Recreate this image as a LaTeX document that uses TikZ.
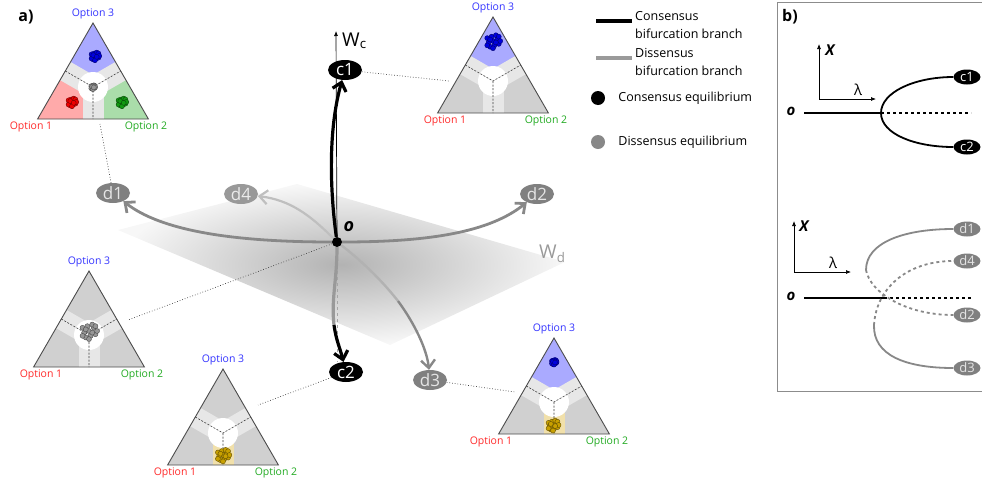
\documentclass[tikz,border=0pt]{standalone}
\usepackage{fontspec}
\setmainfont{Open Sans}
\usetikzlibrary{arrows.meta, positioning, backgrounds, calc, shapes.geometric}
\definecolor{opone}{RGB}{255,42,42}
\definecolor{optwo}{RGB}{34,170,34}
\definecolor{opthree}{RGB}{51,51,255}
\definecolor{regblue}{RGB}{170,170,255}
\definecolor{regred}{RGB}{255,170,170}
\definecolor{reggreen}{RGB}{170,221,170}
\definecolor{reggray}{RGB}{208,208,208}
\definecolor{bandgray}{RGB}{231,231,231}
\definecolor{bandtan}{RGB}{241,224,170}
\definecolor{dotblue}{RGB}{0,0,221}
\definecolor{dotred}{RGB}{238,0,0}
\definecolor{dotgreen}{RGB}{17,153,17}
\definecolor{dotgray}{RGB}{150,150,150}
\definecolor{dotgold}{RGB}{200,160,0}
\definecolor{branchgray}{RGB}{136,136,136}
\definecolor{nodegray}{RGB}{128,128,128}

% simplex: centroid, top / left / right region, lower band, x of Option 1
\newcommand{\simplexplot}[6]{%
  \begin{scope}[shift={#1}]
    \fill[#2] (0,-64) -- (27.7,-16) -- (0,0) -- (-27.7,-16) -- cycle;
    \fill[#3] (-55.4,32) -- (-27.7,-16) -- (0,0) -- (0,32) -- cycle;
    \fill[#4] (55.4,32) -- (0,32) -- (0,0) -- (27.7,-16) -- cycle;
    \draw[band] (0,0) -- (-27.7,-16);
    \draw[band] (0,0) -- (27.7,-16);
    \draw[band, draw=#5] (0,0) -- (0,32);
    \fill[white] (0,0) circle (15);
    \draw[sepline] (-27.7,-16) -- (0,0) -- (27.7,-16) (0,0) -- (0,32);
    \draw[simplex] (0,-64) -- (55.4,32) -- (-55.4,32) -- cycle;
    \node[optlabel, text=opthree] at (0,-73) {Option 3};
    \node[optlabel, text=opone] at (#6,40) {Option 1};
    \node[optlabel, text=optwo] at (53,40) {Option 2};
  \end{scope}}

% cluster of opinions
\newcommand{\dotcluster}[3]{%
  \begin{scope}[shift={#1}]
    \foreach \dx/\dy in {0/0, 3/-2, -3/1, 1/3, -1/-3, 4/2, -4/-2, 2/-4, -2/4, 4/-3, -4/3, 0/5, 5/0, -2/-1, 2/1}
      \filldraw[fill=#2, draw=#2!50!black, line width=0.4pt] ({\dx*#3*0.85},{\dy*#3*0.85}) circle (2.5);
  \end{scope}}

\begin{document}
\begin{tikzpicture}[x=1pt, y=-1pt,
    enode/.style={ellipse, fill=black, text=white, inner sep=0pt,
      minimum width=34pt, minimum height=20pt, font=\fontsize{17}{17}\selectfont},
    dnode/.style={enode, fill=nodegray, text=black!10},
    smallnode/.style={minimum width=27pt, minimum height=15pt, font=\fontsize{13}{13}\selectfont},
    cbranch/.style={-{Straight Barb[length=8pt,width=14pt]}, line width=3.2pt},
    dbranch/.style={cbranch, draw=branchgray, line width=2.8pt},
    guide/.style={dotted, line width=0.7pt, black!75},
    axis/.style={line width=0.7pt, >={Latex[length=5pt,width=4pt]}},
    bline/.style={line width=1.8pt},
    dbline/.style={bline, draw=branchgray},
    band/.style={line width=21pt, draw=bandgray},
    sepline/.style={dash pattern=on 2pt off 1.5pt, line width=0.6pt, black!75},
    simplex/.style={draw=black!70, line width=0.9pt},
    optlabel/.style={font=\fontsize{10.5}{12}\selectfont, inner sep=0pt},
    legtext/.style={font=\fontsize{12.5}{18}\selectfont, align=left, inner sep=0pt},
    olabel/.style={font=\bfseries\itshape\fontsize{18}{18}\selectfont, inner sep=0pt},
    panel/.style={font=\bfseries\fontsize{16}{16}\selectfont, inner sep=0pt}
  ]
  \useasboundingbox (0,0) rectangle (982,485);

  % Simplex plots
  \simplexplot{(93,87)}{regblue}{regred}{reggreen}{bandgray}{-62}
  \simplexplot{(493,81)}{regblue}{reggray}{reggray}{bandgray}{-48}
  \simplexplot{(89,335)}{reggray}{reggray}{reggray}{bandgray}{-48}
  \simplexplot{(223,433)}{reggray}{reggray}{reggray}{bandtan}{-48}
  \simplexplot{(554,402)}{regblue}{reggray}{reggray}{bandtan}{-63}
  \dotcluster{(95,56)}{dotblue}{1}
  \dotcluster{(72,102)}{dotred}{1}
  \dotcluster{(122,102)}{dotgreen}{1}
  \dotcluster{(93,87)}{dotgray}{0.5}
  \dotcluster{(493,41)}{dotblue}{1.7}
  \dotcluster{(89,331)}{dotgray}{1.9}
  \dotcluster{(223,455)}{dotgold}{1.5}
  \dotcluster{(554,362)}{dotblue}{0.6}
  \dotcluster{(553,425)}{dotgold}{1.3}

  % Equilibria
  \node[circle, fill=black, inner sep=0pt, minimum size=10pt] (o) at (337,242) {};
  \node[olabel] (olab) at (349,227) {o};
  \node[enode] (c1) at (345,70) {c1};
  \node[enode] (c2) at (346,372) {c2};
  \node[dnode] (d1) at (113,193) {d1};
  \node[dnode, fill=nodegray!80, text=black!8] (d4) at (241,194) {d4};
  \node[dnode] (d2) at (537,194) {d2};
  \node[dnode] (d3) at (430,380) {d3};
  \coordinate (wc) at (336,31);
  \node[font=\fontsize{19}{19}\selectfont, anchor=base west, inner sep=0pt] (wclab) at (342,46) {W\textsubscript{c}};
  \node[font=\fontsize{19}{19}\selectfont, anchor=base west, inner sep=0pt, text=black!40] (wdlab) at (539,258) {W\textsubscript{d}};

  % Plane and consensus axis
  \begin{scope}[on background layer]
    \shade[inner color=black!30, outer color=black!3] (297,184) -- (565,262) -- (390,345) -- (118,230) -- cycle;
    \draw[axis, ->] (o) -- (wc);
  \end{scope}

  % Branches
  \coordinate (c2mid) at (334,325);
  \coordinate (d3mid) at (398,301);
  \draw[cbranch] (o) .. controls (330,190) and (328,130) .. (c1);
  \draw[gray!70, dashed, line width=0.6pt] (o) -- (o |- c2.north);
  \draw[cbranch, -, draw=black!40] (o) .. controls (337,280) and (331,300) .. (c2mid);
  \draw[cbranch] (c2mid) .. controls (336,340) and (340,348) .. (c2);
  \draw[dbranch] (o) .. controls (230,242) and (160,230) .. (d1);
  \draw[dbranch] (o) .. controls (430,242) and (490,232) .. (d2);
  \draw[dbranch, draw=black!25, line width=2.2pt] (o) .. controls (310,215) and (290,200) .. (d4);
  \draw[dbranch, -, draw=black!30, line width=2.4pt] (o) .. controls (358,258) and (380,278) .. (d3mid);
  \draw[dbranch, line width=2.4pt] (d3mid) .. controls (415,324) and (427,350) .. (d3);

  % Links to simplex plots
  \coordinate (t1s) at (100,124);
  \coordinate (t2w) at (449,81);
  \coordinate (t3e) at (128,320);
  \coordinate (t4e) at (258,405);
  \coordinate (t5w) at (515,392);
  \draw[guide] (d1) -- (t1s);
  \draw[guide] (c1) -- (t2w);
  \draw[guide] (o) -- (t3e);
  \draw[guide] (c2) -- (t4e);
  \draw[guide] (d3) -- (t5w);

  % Legend
  \coordinate (leg1a) at (596,21);
  \coordinate (leg1b) at (632,21);
  \coordinate (leg2a) at (596,58);
  \coordinate (leg2b) at (632,58);
  \draw[line width=4.5pt] (leg1a) -- (leg1b);
  \draw[line width=4.5pt, branchgray!85] (leg2a) -- (leg2b);
  \node[legtext, anchor=west] (leg1) at (635,25) {Consensus\\bifurcation branch};
  \node[legtext, anchor=west] (leg2) at (635,62) {Dissensus\\bifurcation branch};
  \node[circle, fill=black, inner sep=0pt, minimum size=14pt] (legc) at (598,98) {};
  \node[circle, fill=branchgray, inner sep=0pt, minimum size=14pt] (legd) at (598,142) {};
  \node[legtext, right=13pt of legc] (legctext) {Consensus equilibrium};
  \node[legtext, right=13pt of legd] (legdtext) {Dissensus equilibrium};

  % Panel labels
  \node[panel] (lbla) at (26,17) {a)};
  \node[panel] (lblb) at (790,17) {b)};
  \draw[black!45, line width=0.9pt] (983,2) -- (777,2) -- (777,391) -- (983,391);

  % Panel b, consensus
  \coordinate (ax1) at (819,99);
  \coordinate (ax1y) at (819,44);
  \coordinate (ax1x) at (876,99);
  \draw[axis, <->] (ax1y) -- (ax1) -- (ax1x);
  \node[font=\bfseries\itshape\fontsize{15}{15}\selectfont, inner sep=0pt] (xa) at (830,50) {X};
  \node[font=\fontsize{15}{15}\selectfont, inner sep=0pt] (lama) at (858,90) {λ};
  \node[olabel, font=\bfseries\itshape\fontsize{15}{15}\selectfont] (ob1) at (791,111) {o};
  \coordinate (ob1s) at (804,113);
  \coordinate (bifc) at (881,113);
  \coordinate (endc) at (971,113);
  \node[enode, smallnode] (c1b) at (967,77) {c1};
  \node[enode, smallnode] (c2b) at (967,147) {c2};
  \draw[bline] (ob1s) -- (bifc);
  \draw[bline, dashed] (bifc) -- (endc);
  \draw[bline] (bifc) .. controls (881,92) and (915,77) .. (c1b);
  \draw[bline] (bifc) .. controls (881,134) and (915,147) .. (c2b);

  % Panel b, dissensus
  \coordinate (ax2) at (794,272);
  \coordinate (ax2y) at (794,221);
  \coordinate (ax2x) at (851,272);
  \draw[axis, <->] (ax2y) -- (ax2) -- (ax2x);
  \node[font=\bfseries\itshape\fontsize{15}{15}\selectfont, inner sep=0pt] (xb) at (804,226) {X};
  \node[font=\fontsize{15}{15}\selectfont, inner sep=0pt] (lamb) at (833,263) {λ};
  \node[olabel, font=\bfseries\itshape\fontsize{15}{15}\selectfont] (ob2) at (791,296) {o};
  \coordinate (ob2s) at (804,298);
  \coordinate (bifd) at (884,298);
  \coordinate (endd) at (971,298);
  \coordinate (fold1) at (866,270);
  \coordinate (fold3) at (874,325);
  \node[dnode, smallnode] (d1b) at (967,229) {d1};
  \node[dnode, smallnode] (d4b) at (967,261) {d4};
  \node[dnode, smallnode] (d2b) at (967,315) {d2};
  \node[dnode, smallnode] (d3b) at (967,368) {d3};
  \draw[bline] (ob2s) -- (bifd);
  \draw[bline, dashed] (bifd) -- (endd);
  \draw[dbline] (fold1) .. controls (866,242) and (905,229) .. (d1b);
  \draw[dbline, dashed] (fold1) .. controls (870,292) and (905,315) .. (d2b);
  \draw[dbline, dashed] (fold3) .. controls (876,290) and (905,261) .. (d4b);
  \draw[dbline] (fold3) .. controls (873,355) and (905,368) .. (d3b);
\end{tikzpicture}
\end{document}
